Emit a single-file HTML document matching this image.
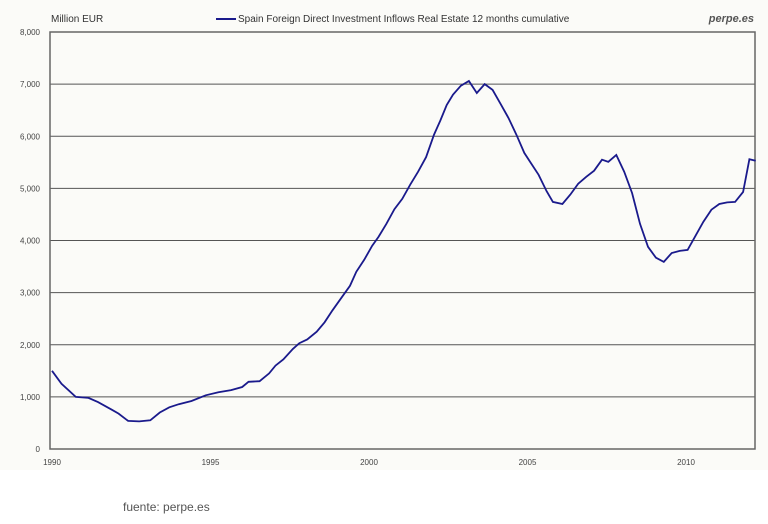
<!DOCTYPE html>
<html><head><meta charset="utf-8"><style>
body{margin:0;background:#fff;font-family:"Liberation Sans",sans-serif}
</style></head><body>
<svg width="768" height="519" xmlns="http://www.w3.org/2000/svg">
<rect x="0" y="0" width="768" height="470" fill="#fbfbf8"/>
<text x="51" y="22" font-size="10" fill="#333">Million EUR</text>
<g>
<line x1="216" y1="19" x2="236" y2="19" stroke="#1a1a8c" stroke-width="2"/>
<text x="238" y="22" font-size="10" fill="#333">Spain Foreign Direct Investment Inflows Real Estate 12 months cumulative</text>
</g>
<text x="754" y="22" font-size="11" font-style="italic" font-weight="bold" fill="#555" text-anchor="end">perpe.es</text>
<g id="grid"></g>
<g id="yticks"></g>
<g id="xticks"></g>
<rect x="50" y="32" width="705" height="417" fill="none" stroke="#666" stroke-width="1.5"/>
<path id="line" fill="none" stroke="#1a1a8c" stroke-width="1.8"/>
<text x="123" y="511" font-size="12" fill="#555">fuente: perpe.es</text>
</svg>
<script>
const years=[1990.0,1990.3,1990.75,1991.15,1991.45,1991.9,1992.1,1992.4,1992.75,1993.1,1993.4,1993.7,1994.0,1994.4,1994.85,1995.25,1995.65,1996.0,1996.2,1996.55,1996.85,1997.05,1997.3,1997.6,1997.8,1998.05,1998.35,1998.6,1998.85,1999.15,1999.4,1999.6,1999.85,2000.1,2000.3,2000.55,2000.8,2001.05,2001.3,2001.55,2001.8,2002.05,2002.25,2002.45,2002.65,2002.9,2003.15,2003.4,2003.65,2003.9,2004.15,2004.4,2004.65,2004.9,2005.1,2005.35,2005.6,2005.8,2006.1,2006.35,2006.6,2006.85,2007.1,2007.35,2007.55,2007.8,2008.05,2008.3,2008.55,2008.8,2009.05,2009.3,2009.55,2009.8,2010.05,2010.3,2010.55,2010.8,2011.05,2011.3,2011.55,2011.8,2012.0,2012.2];
const values=[1500,1250,1000,980,900,750,680,540,530,550,700,800,860,920,1030,1090,1130,1190,1290,1300,1450,1600,1720,1920,2030,2100,2250,2430,2660,2920,3130,3400,3630,3900,4070,4320,4600,4800,5070,5320,5600,6030,6300,6600,6800,6970,7060,6830,7000,6890,6620,6350,6030,5680,5490,5260,4950,4740,4700,4880,5090,5220,5340,5550,5510,5640,5320,4910,4320,3880,3670,3590,3760,3800,3820,4090,4360,4590,4700,4730,4740,4930,5560,5530];
const yTicks=[0,1000,2000,3000,4000,5000,6000,7000,8000];
const yTickLabels=["0","1,000","2,000","3,000","4,000","5,000","6,000","7,000","8,000"];
const xTicks=[1990,1995,2000,2005,2010];
const xTickLabels=["1990","1995","2000","2005","2010"];
const X=v=>52+(v-1990)*31.7;
const Y=v=>449-v*(417/8000);
const NS="http://www.w3.org/2000/svg";
const grid=document.getElementById('grid'),yt=document.getElementById('yticks'),xt=document.getElementById('xticks');
yTicks.forEach((t,i)=>{
  if(t>0&&t<8000){const l=document.createElementNS(NS,'line');
  l.setAttribute('x1',50);l.setAttribute('x2',755);l.setAttribute('y1',Y(t));l.setAttribute('y2',Y(t));
  l.setAttribute('stroke','#555');l.setAttribute('stroke-width','1');
  
  
  grid.appendChild(l);}
  const tx=document.createElementNS(NS,'text');
  tx.setAttribute('x',40);tx.setAttribute('y',Y(t)+3);tx.setAttribute('text-anchor','end');
  tx.setAttribute('font-size','8');tx.setAttribute('fill','#444');tx.textContent=yTickLabels[i];
  
  
  yt.appendChild(tx);
});
xTicks.forEach((t,i)=>{
  const tx=document.createElementNS(NS,'text');
  tx.setAttribute('x',X(t));tx.setAttribute('y',465);tx.setAttribute('text-anchor','middle');
  tx.setAttribute('font-size','8');tx.setAttribute('fill','#444');tx.textContent=xTickLabels[i];
  
  
  xt.appendChild(tx);
});
document.getElementById('line').setAttribute('d',years.map((y,i)=>(i?'L':'M')+X(y).toFixed(1)+','+Y(values[i]).toFixed(1)).join(''));
</script>
</body></html>
